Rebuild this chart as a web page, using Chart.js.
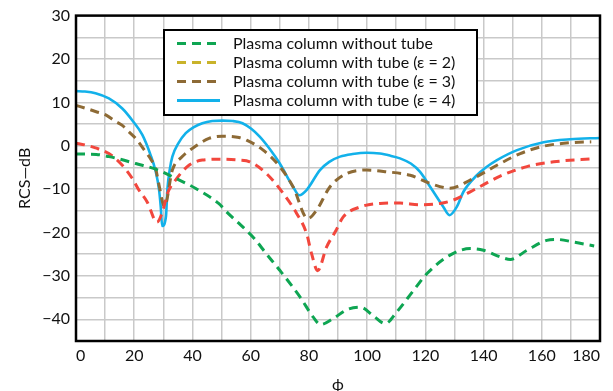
<!DOCTYPE html>
<html>
<head>
<meta charset="utf-8">
<script src="https://cdn.jsdelivr.net/npm/chart.js@4.4.0/dist/chart.umd.min.js"></script>
<style>
  html, body { margin: 0; padding: 0; background: #fff; }
  #wrap { width: 613px; height: 391px; }
</style>
</head>
<body>
<div id="wrap"><canvas id="rcsChart"></canvas></div>
<script>
const seriesNames = [
  'Plasma column without tube',
  'Plasma column with tube (ε = 2)',
  'Plasma column with tube (ε = 3)',
  'Plasma column with tube (ε = 4)'
];

// phi (deg) and RCS (dB)
const phiNoTube = [0, 7, 11.3, 14, 20.5, 27.4, 34.2, 41, 49, 52, 56, 61, 65.5, 70, 77, 81.5, 84, 88.4, 93, 97.6, 102, 106.2, 110.2, 116, 120.5, 128.5, 135.4, 140, 145.7, 149.2, 154.9, 161.7, 165.2, 171, 178];
const rcsNoTube = [-1.9, -2, -2.5, -2.9, -4.1, -5.4, -7.5, -9.8, -13.3, -15.4, -17.9, -21.2, -25, -28.7, -34.9, -39.5, -41.2, -39.8, -37.8, -37.2, -39.1, -41, -38.3, -33.3, -29.5, -25.2, -23.7, -24.1, -25.6, -26.2, -24.1, -21.8, -21.6, -22.2, -23.1];

const phiEps2 = [0, 3, 6.7, 11.3, 15.9, 19.3, 21.6, 24.5, 27.8, 29.9, 31.4, 34.2, 38.8, 43.4, 49, 56, 59.7, 65.4, 71.2, 75.8, 79.2, 80.9, 83, 86.1, 89, 91.8, 97.6, 104.4, 111.3, 118.2, 125, 129.7, 137.7, 145.7, 154.9, 164.1, 178];
const rcsEps2 = [0.6, 0.2, -0.5, -1.8, -4.5, -7.5, -10.2, -13, -17.6, -14.8, -11, -7.9, -4.5, -3.3, -3.1, -3.3, -3.7, -6.4, -11, -15.6, -20.2, -24.8, -28.8, -23.3, -19.9, -16.4, -14.1, -13.3, -13.2, -13.6, -13.3, -12.5, -9.8, -7, -4.8, -3.7, -3];

const phiEps3 = [0, 3.5, 6.7, 10.2, 13.6, 15.9, 18, 20.5, 23.9, 25.8, 27.4, 28.5, 30.4, 33.1, 36.5, 40, 45.7, 50.3, 56, 58.6, 64.3, 70, 74.6, 79.6, 82.7, 87.2, 93, 99.9, 106.7, 114.8, 121.7, 128.5, 135.4, 144.6, 152.6, 160.6, 169.8, 177];
const rcsEps3 = [9.3, 8.6, 7.9, 7.1, 5.6, 4.7, 3.3, 1.7, -1.4, -3.2, -5.4, -9, -14, -5.6, -2.5, -0.6, 1.7, 2.2, 1.9, 1.3, -1, -4.8, -9.5, -16.8, -14.8, -9.5, -6.4, -5.6, -6, -6.8, -8.7, -9.8, -7.9, -4.5, -1.8, -0.1, 0.7, 0.9];

const phiEps4 = [0, 3, 6.7, 11.3, 15.9, 19.3, 22.8, 25.6, 27.4, 28.5, 29.1, 29.6, 30.9, 31.4, 32.2, 33.1, 35.2, 37.7, 40.5, 43.4, 46.8, 50.3, 53.8, 57.2, 60.2, 63.1, 66.5, 70, 74.6, 76.7, 79.2, 83.8, 87, 90.7, 95, 99.9, 104.4, 108, 111.3, 115, 118.2, 121.7, 126.2, 128.3, 130.8, 133.1, 137.7, 141, 144.6, 151.5, 160.6, 169.8, 180];
const rcsEps4 = [12.6, 12.5, 12.1, 10.9, 8.6, 5.9, 2.5, -2.1, -6, -10, -14, -18.5, -16.3, -10, -5.5, -2.5, 0.6, 2.9, 4.3, 5.2, 5.7, 5.8, 5.7, 5.2, 3.9, 2.1, -0.7, -4.1, -9.5, -11.4, -10.2, -5.6, -3.7, -2.5, -1.9, -1.6, -1.8, -2.3, -2.9, -4.1, -6, -9.5, -14.1, -16, -14.1, -10.6, -6.8, -4.9, -3.3, -1, 0.8, 1.5, 1.8];

const xTicks = [0, 20, 40, 60, 80, 100, 120, 140, 160, 180];
const yTicks = [30, 20, 10, 0, -10, -20, -30, -40];

const FONT = 'Lato';

function pts(xs, ys) {
  return xs.map((x, i) => ({ x: x, y: ys[i] }));
}

const minus = v => (v < 0 ? '\u2212' + Math.abs(v) : String(v));

// frame round the plot area
const frame = {
  id: 'frame',
  afterDatasetsDraw(chart) {
    const { ctx, chartArea: a } = chart;
    ctx.save();
    ctx.strokeStyle = '#000';
    ctx.lineWidth = 2.5;
    ctx.strokeRect(a.left, a.top, a.right - a.left, a.bottom - a.top);
    ctx.restore();
  }
};

// boxed legend inside the plot
const boxLegend = {
  id: 'boxLegend',
  afterDraw(chart) {
    const ctx = chart.ctx;
    const bx = 164, by = 30, bw = 313, bh = 85;
    ctx.save();
    ctx.fillStyle = '#fff';
    ctx.fillRect(bx, by, bw, bh);
    ctx.strokeStyle = '#000';
    ctx.lineWidth = 2;
    ctx.strokeRect(bx, by, bw, bh);
    ctx.font = '16px ' + FONT;
    ctx.textBaseline = 'middle';
    ctx.fillStyle = '#111';
    chart.data.datasets.forEach((ds, i) => {
      const y = by + 13.5 + i * 19;
      ctx.beginPath();
      ctx.setLineDash(ds.borderDash || []);
      ctx.strokeStyle = ds.legendColor || ds.borderColor;
      ctx.lineWidth = 3;
      ctx.moveTo(bx + 13, y);
      ctx.lineTo(bx + 56, y);
      ctx.stroke();
      ctx.setLineDash([]);
      ctx.fillText(ds.label, bx + 69, y);
    });
    ctx.restore();
  }
};

const ctx = document.getElementById('rcsChart').getContext('2d');

new Chart(ctx, {
  type: 'line',
  data: {
    datasets: [
      {
        label: seriesNames[0],
        data: pts(phiNoTube, rcsNoTube),
        borderColor: '#0ea552',
        borderDash: [9, 6],
        borderWidth: 3
      },
      {
        label: seriesNames[1],
        data: pts(phiEps2, rcsEps2),
        borderColor: '#f2473d',
        legendColor: '#c9b32a',
        borderDash: [9, 6],
        borderWidth: 3
      },
      {
        label: seriesNames[2],
        data: pts(phiEps3, rcsEps3),
        borderColor: '#8d6a35',
        borderDash: [9, 6],
        borderWidth: 3
      },
      {
        label: seriesNames[3],
        data: pts(phiEps4, rcsEps4),
        borderColor: '#12b1ea',
        borderWidth: 2.6
      }
    ]
  },
  options: {
    responsive: true,
    maintainAspectRatio: false,
    animation: false,
    parsing: false,
    layout: { padding: { top: 15, right: 13, left: 0, bottom: 0 } },
    elements: {
      point: { radius: 0 },
      line: { cubicInterpolationMode: 'monotone', fill: false }
    },
    plugins: {
      legend: { display: false },
      tooltip: { enabled: false }
    },
    scales: {
      x: {
        type: 'linear',
        min: 0,
        max: 180,
        afterFit: s => { s.height = 50; },
        ticks: {
          stepSize: 10,
          autoSkip: false,
          maxRotation: 0,
          align: 'inner',
          padding: 5,
          color: '#111',
          font: { family: FONT, size: 16 },
          callback: v => (xTicks.includes(v) ? String(v) : '')
        },
        grid: { color: '#c9c9c9', lineWidth: 1.5, drawTicks: false },
        border: { display: false },
        title: {
          display: true,
          text: 'ϕ',
          color: '#111',
          font: { family: FONT, size: 16 },
          padding: { top: 0, bottom: -3 }
        }
      },
      y: {
        min: -45,
        max: 30,
        afterFit: s => { s.width = 76; },
        ticks: {
          stepSize: 5,
          autoSkip: false,
          padding: 6,
          color: '#111',
          font: { family: FONT, size: 16 },
          callback: v => (yTicks.includes(v) ? minus(v) : '')
        },
        grid: { color: '#c9c9c9', lineWidth: 1.5, drawTicks: false },
        border: { display: false },
        title: {
          display: true,
          text: 'RCS\u2014dB',
          color: '#111',
          font: { family: FONT, size: 16 },
          padding: { top: 15, bottom: 0 }
        }
      }
    }
  },
  plugins: [frame, boxLegend]
});
</script>
</body>
</html>
